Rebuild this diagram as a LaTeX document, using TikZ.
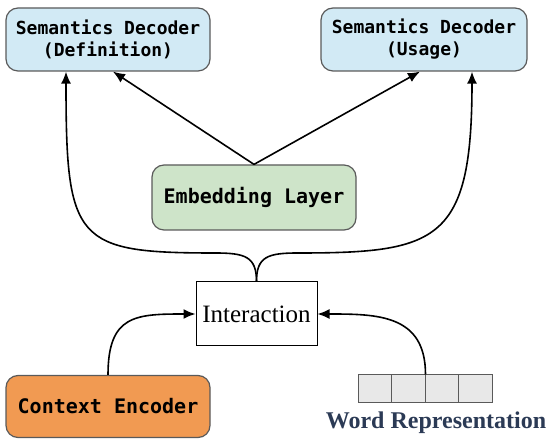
\documentclass[tikz,border=0pt]{standalone}
\usepackage{fontspec}
\setmainfont{Liberation Serif}
\newfontfamily\boxfont{DejaVu Sans Mono}
\usetikzlibrary{arrows.meta}
\definecolor{decblue}{HTML}{D2EAF5}
\definecolor{embgreen}{HTML}{CEE4C9}
\definecolor{encorange}{HTML}{F19A52}
\definecolor{cellgray}{HTML}{E8E8E8}
\definecolor{edgegray}{HTML}{5A5A5A}
\definecolor{labelnavy}{HTML}{2B3A55}
\tikzset{
  module/.style={draw=edgegray, line width=1.2pt, rounded corners=12pt,
    minimum width=204pt, minimum height=63pt, inner sep=0pt, align=center,
    font=\boxfont\bfseries\fontsize{18}{22}\selectfont},
  bigtext/.style={font=\boxfont\bfseries\fontsize{20}{24}\selectfont},
  cell/.style={draw=edgegray, fill=cellgray, line width=1pt,
    minimum width=33.5pt, minimum height=28pt, inner sep=0pt},
  flow/.style={line width=1.6pt, -{Latex[length=12pt,width=10pt]}},
}
\begin{document}
\begin{tikzpicture}[x=1pt,y=-1pt]
  \useasboundingbox (0,0) rectangle (550,443);
  % decoders
  \node[module, fill=decblue] (defn) at (108,39.5) {Semantics Decoder\\(Definition)};
  \node[module, fill=decblue, minimum width=206pt] (usage) at (424,39.5) {Semantics Decoder\\(Usage)};
  % middle
  \node[module, bigtext, fill=embgreen, minimum height=65pt] (embed) at (254,197.5) {Embedding Layer};
  \node[draw, line width=1pt, minimum width=121pt, minimum height=64pt, inner sep=0pt,
    font=\fontsize{25}{28}\selectfont] (inter) at (256.5,314) {Interaction};
  % inputs
  \node[module, bigtext, fill=encorange, minimum height=62pt] (context) at (108,406.5) {Context Encoder};
  \foreach \i in {1,...,4}
    \node[cell] (w\i) at (358+33.5*\i-16.75,389) {};
  \node[font=\bfseries\fontsize{24}{28}\selectfont, text=labelnavy] (wordlabel) at (436,423) {Word Representation};
  % connectors
  \draw[flow] (embed.north) -- ([xshift=5pt]defn.south);
  \draw[flow] (embed.north) -- ([xshift=-4pt]usage.south);
  \draw[flow] (inter.north) .. controls +(0,-25) and +(30,0) .. (215,253)
    .. controls +(-140,0) and +(0,170) .. ([xshift=-42pt]defn.south);
  \draw[flow] (inter.north) .. controls +(0,-25) and +(-30,0) .. (298,253)
    .. controls +(140,0) and +(0,170) .. ([xshift=48pt]usage.south);
  \draw[flow] (context.north) .. controls +(0,-60) and +(-60,0) .. (inter.west);
  \draw[flow] (w2.north east) .. controls +(0,-60) and +(60,0) .. (inter.east);
\end{tikzpicture}
\end{document}
